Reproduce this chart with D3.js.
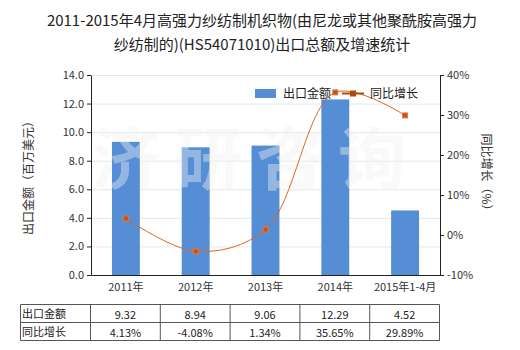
<!DOCTYPE html>
<html><head><meta charset="utf-8">
<script src="https://cdn.jsdelivr.net/npm/d3@7"></script>
<style>body{margin:0;background:#fff}svg{display:block}text{font-family:"Noto Sans CJK SC","Microsoft YaHei",sans-serif}</style>
</head><body><svg id="c" width="520" height="350"></svg>
<script>
const categories = ["2011年","2012年","2013年","2014年","2015年1-4月"];
const exportValues = [9.32, 8.94, 9.06, 12.29, 4.52];
const growthValues = [4.13, -4.08, 1.34, 35.65, 29.89];
const leftTicks = [0,2,4,6,8,10,12,14];
const rightTicks = [-10,0,10,20,30,40];
const exportLabels = ["9.32","8.94","9.06","12.29","4.52"];
const growthLabels = ["4.13%","-4.08%","1.34%","35.65%","29.89%"];

const svg = d3.select("#c");
const L=91, R=440, T=75, B=275;
const xc = d3.scaleBand().domain(categories).range([L,R]);
const yL = d3.scaleLinear().domain([0,14]).range([B,T]);
const yR = d3.scaleLinear().domain([-10,40]).range([B,T]);
const barColor="#558ed5", lineColor="#e0661c";

// grid
svg.append("g").selectAll("line").data(leftTicks.slice(1)).join("line")
  .attr("x1",L).attr("x2",R).attr("y1",d=>yL(d)+0.5).attr("y2",d=>yL(d)+0.5)
  .attr("stroke","#e4e8ec");

// bars
const bw = xc.bandwidth()*0.4;
svg.append("g").selectAll("rect").data(exportValues).join("rect")
  .attr("x",(d,i)=>xc(categories[i])+xc.bandwidth()/2-bw/2).attr("width",bw)
  .attr("y",d=>yL(d)).attr("height",d=>B-yL(d)).attr("fill",barColor);

// watermark (over bars)
svg.append("text").attr("x",256).attr("y",184).attr("text-anchor","middle")
  .attr("font-size",68).attr("font-weight","bold").attr("letter-spacing",14)
  .attr("fill","#f2f2f2").attr("opacity",0.4)
  .text("济研咨询");

// axes
const fs=11;
const gl = svg.append("g").attr("transform",`translate(${L},0)`)
  .call(d3.axisLeft(yL).tickValues(leftTicks).tickFormat(d3.format(".1f")).tickSize(4).tickSizeOuter(0));
const gr = svg.append("g").attr("transform",`translate(${R},0)`)
  .call(d3.axisRight(yR).tickValues(rightTicks).tickFormat(d=>d+"%").tickSize(4).tickSizeOuter(0));
const gb = svg.append("g").attr("transform",`translate(0,${B})`)
  .call(d3.axisBottom(xc).tickSize(0).tickPadding(8));
[gl,gr,gb].forEach(g=>{g.selectAll("text").attr("font-size",fs).attr("fill","#333").attr("font-family","'Liberation Sans',Arial,'Noto Sans CJK SC',sans-serif");
  g.selectAll("path,line").attr("stroke","#222");});

// line
const cx = i=>xc(categories[i])+xc.bandwidth()/2;
const line = d3.line().x((d,i)=>cx(i)).y(d=>yR(d)).curve(d3.curveCatmullRom.alpha(0.5));
svg.append("path").datum(growthValues).attr("d",line).attr("fill","none").attr("stroke",lineColor).attr("stroke-width",1);
svg.append("g").selectAll("rect").data(growthValues).join("rect")
  .attr("x",(d,i)=>cx(i)-2.5).attr("y",d=>yR(d)-2.5).attr("width",5).attr("height",5)
  .attr("fill","#c8501a").attr("stroke","#e8783a").attr("stroke-width",1);

// axis titles
svg.append("text").attr("transform","translate(33,175) rotate(-90)").attr("text-anchor","middle")
  .attr("font-size",12).attr("fill","#333").text("出口金额（百万美元）");
svg.append("text").attr("transform","translate(482,175) rotate(90)").attr("text-anchor","middle")
  .attr("font-size",12).attr("fill","#333").text("同比增长（%）");

// title
svg.append("text").attr("x",262).attr("y",26).attr("text-anchor","middle").attr("font-size",15).attr("fill","#222")
  .text("2011-2015年4月高强力纱纺制机织物(由尼龙或其他聚酰胺高强力");
svg.append("text").attr("x",262).attr("y",50).attr("text-anchor","middle").attr("font-size",15).attr("fill","#222")
  .text("纱纺制的)(HS54071010)出口总额及增速统计");

// legend
const lg = svg.append("g");
lg.append("rect").attr("x",255).attr("y",89).attr("width",21).attr("height",9).attr("fill",barColor);
lg.append("text").attr("x",283).attr("y",98).attr("font-size",12).attr("fill","#222").text("出口金额");
lg.append("line").attr("x1",342).attr("x2",364).attr("y1",93.5).attr("y2",93.5).attr("stroke","#b04a0a").attr("stroke-width",2);
lg.append("rect").attr("x",350).attr("y",90.5).attr("width",6).attr("height",6).attr("fill","#b04a0a");
lg.append("text").attr("x",370).attr("y",98).attr("font-size",12).attr("fill","#222").text("同比增长");

// table
const tT=304.5, tM=322.5, tB=340.5, tL=20.5, tC=90.5;
const cols = [tL,tC].concat(categories.map((c,i)=>tC+(i+1)*(R-L)/5));
const tg = svg.append("g").attr("stroke","#555").attr("stroke-width",1);
[tT,tM,tB].forEach(y=>tg.append("line").attr("x1",tL).attr("x2",cols[cols.length-1]).attr("y1",y).attr("y2",y));
cols.forEach(xv=>tg.append("line").attr("x1",xv).attr("x2",xv).attr("y1",tT).attr("y2",tB));
svg.append("text").attr("x",22).attr("y",318).attr("font-size",11).attr("fill","#222").text("出口金额");
svg.append("text").attr("x",22).attr("y",336).attr("font-size",11).attr("fill","#222").text("同比增长");
exportLabels.forEach((t,i)=>svg.append("text").attr("x",(cols[i+1]+cols[i+2])/2).attr("y",319)
  .attr("text-anchor","middle").attr("font-size",11).attr("fill","#222").attr("font-family","'Liberation Sans',Arial,sans-serif").text(t));
growthLabels.forEach((t,i)=>svg.append("text").attr("x",(cols[i+1]+cols[i+2])/2).attr("y",337)
  .attr("text-anchor","middle").attr("font-size",11).attr("fill","#222").attr("font-family","'Liberation Sans',Arial,sans-serif").text(t));
</script></body></html>
